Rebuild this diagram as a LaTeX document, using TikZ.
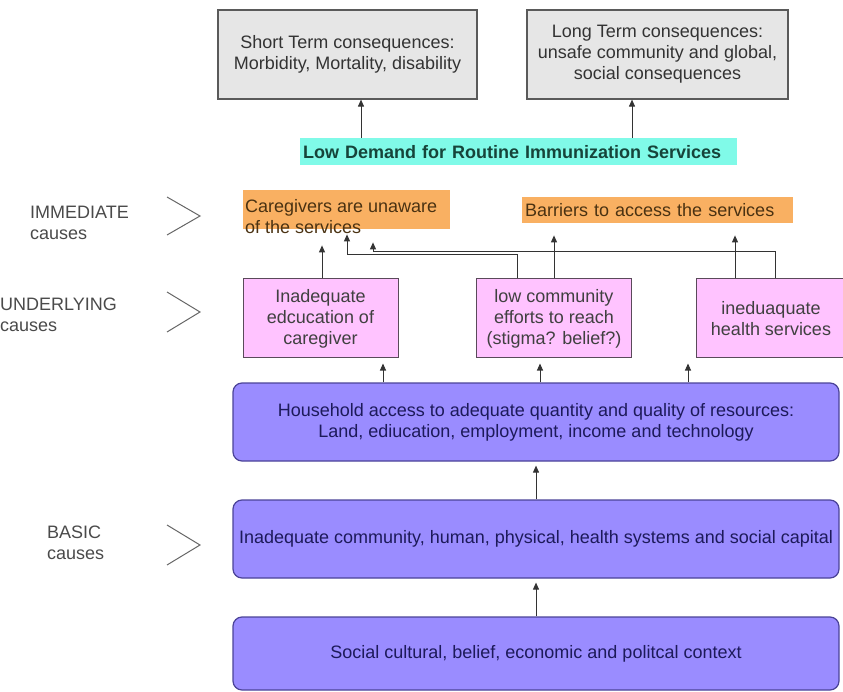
\documentclass[tikz,border=0pt]{standalone}
\usepackage{fontspec}
\setmainfont{Liberation Sans}
\usetikzlibrary{arrows.meta,calc}
\definecolor{consqfill}{HTML}{E6E6E6}
\definecolor{consqline}{HTML}{5A5A5A}
\definecolor{demandfill}{HTML}{80FAE8}
\definecolor{demandtext}{HTML}{16443A}
\definecolor{immedfill}{HTML}{F9B062}
\definecolor{immedtext}{HTML}{4A3212}
\definecolor{underfill}{HTML}{FFC3FF}
\definecolor{underdraw}{HTML}{5A4A5A}
\definecolor{basicfill}{HTML}{9A8CFF}
\definecolor{basicdraw}{HTML}{4B4398}
\definecolor{basictext}{HTML}{1D1A5A}
\definecolor{lvltext}{HTML}{4A4A4A}
\newcommand{\figfont}{\fontsize{18}{21}\selectfont}

\begin{document}
\begin{tikzpicture}[x=1pt,y=-1pt,
    >={Triangle[length=7pt,width=6pt]},
    consq/.style={draw=consqline,line width=1.2pt,fill=consqfill,align=center,font=\figfont,text=black!80,minimum height=89pt},
    demand/.style={fill=demandfill,text=demandtext,font=\figfont\bfseries,text width=431pt,align=left,inner xsep=3pt,inner ysep=0pt,minimum height=27pt},
    immedbox/.style={fill=immedfill,text=immedtext,font=\figfont,inner xsep=3pt,inner ysep=0pt},
    under/.style={draw=underdraw,line width=1pt,fill=underfill,align=center,font=\figfont,text=black!75,minimum width=155pt,minimum height=79pt},
    basic/.style={draw=basicdraw,line width=1.2pt,fill=basicfill,rounded corners=9pt,align=center,font=\figfont,text=basictext,minimum width=606pt,inner xsep=2pt},
    lvl/.style={align=left,inner sep=0pt,font=\figfont,text=lvltext},
    chev/.style={draw=black!60,line width=1pt},
    conn/.style={draw=black!80,line width=1pt}]
    \useasboundingbox (0,0) rectangle (843,692);
    % 后果
    \node[consq,minimum width=259pt](short)at(347.5,54.5){Short Term consequences:\\Morbidity, Mortality, disability};
    \node[consq,minimum width=261pt](long)at(657.5,54.5){Long Term consequences:\\unsafe community and global,\\social consequences};
    % 低需求
    \node[demand,anchor=north west](demand)at(300,138){Low Demand for Routine Immunization Services};
    % 直接原因
    \node[immedbox,minimum width=207pt,minimum height=39pt,anchor=north west](care)at(243,190){};
    \node[immedbox,fill=none,align=left,inner sep=0pt,anchor=north west](caretxt)at(245,199){Caregivers are unaware\\of the services};
    \node[immedbox,text width=265pt,align=left,minimum height=26pt,anchor=north west](barrier)at(522,197){Barriers to access the services};
    % 潜在原因
    \node[under](educ)at(320.5,318.5){Inadequate\\edcucation of\\caregiver};
    \node[under](reach)at(554,318.5){low community\\efforts to reach\\(stigma? belief?)};
    \node[under,minimum width=150pt](health)at(771,318.5){ineduaquate\\health services};
    % 基本原因
    \node[basic,minimum height=78pt](house)at(536,422){Household access to adequate quantity and quality of resources:\\Land, ediucation, employment, income and technology};
    \node[basic,minimum height=78pt](capital)at(536,539){Inadequate community, human, physical, health systems and social capital};
    \node[basic,minimum height=73pt](context)at(536,653.5){Social cultural, belief, economic and politcal context};
    % 左侧标签
    \node[lvl,anchor=west](immlbl)at(30,222.5){IMMEDIATE\\causes};
    \node[lvl,anchor=west](undlbl)at(0,315){UNDERLYING\\causes};
    \node[lvl,anchor=west](baslbl)at(47,542.5){BASIC\\causes};
    \draw[chev](167,197)--(200,216)--(167,235);
    \draw[chev](167,292)--(200,312)--(167,332);
    \draw[chev](167,525)--(200,545)--(167,565);
    % 连接线
    \draw[conn,->]($(demand.north west)+(61,0)$)--($(demand.north west|-short.south)+(61,0)$);
    \draw[conn,->]($(demand.north west)+(332,0)$)--($(demand.north west|-long.south)+(332,0)$);
    \draw[conn,->,shorten >=16pt]($(educ.north)+(1.5,0)$)--($(educ.north|-care.south)+(1.5,0)$);
    \draw[conn,->,shorten >=5pt]($(reach.north)+(-37,0)$)--++(0,-24)-|($(care.south west)+(104,0)$);
    \draw[conn,->,shorten >=13pt]($(health.north)+(4,0)$)--++(0,-27)-|($(care.south west)+(130,0)$);
    \draw[conn,->,shorten >=12pt](reach.north)--(reach.north|-barrier.south);
    \draw[conn,->,shorten >=12pt]($(health.north)+(-36,0)$)--($(health.north|-barrier.south)+(-36,0)$);
    \foreach \dx in {-153,4,152}
        \draw[conn,->,shorten >=5pt]($(house.north)+(\dx,0)$)--($(house.north|-educ.south)+(\dx,0)$);
    \draw[conn,->,shorten >=4pt](capital.north)--(house.south);
    \draw[conn,->,shorten >=4pt](context.north)--(capital.south);
\end{tikzpicture}
\end{document}
